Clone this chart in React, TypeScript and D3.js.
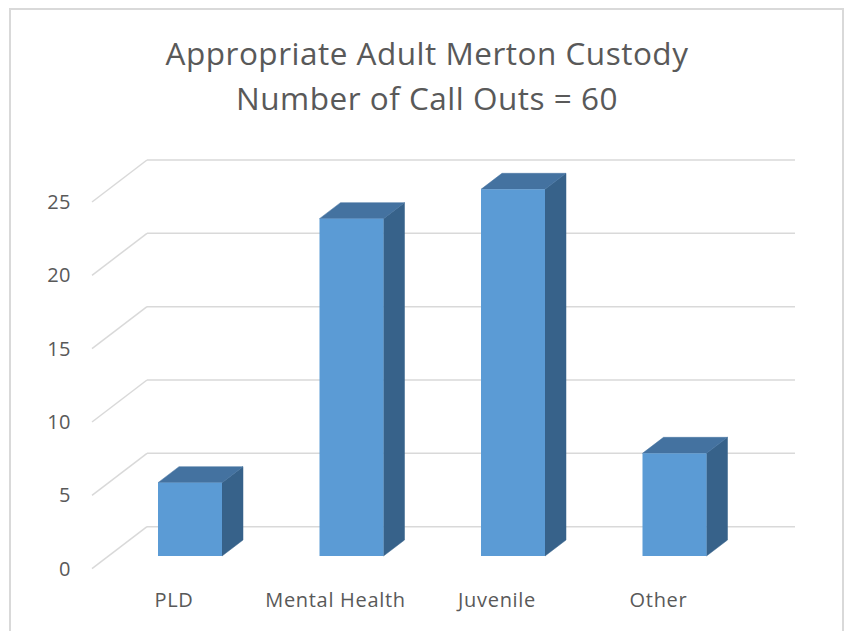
import React from 'react';
import { scaleLinear, scalePoint } from 'd3';

const categories = ['PLD', 'Mental Health', 'Juvenile', 'Other'];
const callOuts = [5, 23, 25, 7];
const yTicks = [0, 5, 10, 15, 20, 25];
const titleLines = ['Appropriate Adult Merton Custody', 'Number of Call Outs = 60'];

const W = 844;
const H = 631;
const FONT = "'Open Sans', 'Segoe UI', sans-serif";
const TEXT = '#595959';
const GRID = '#d9d9d9';

// floor depth (side wall) and bar depth
const depthX = 55;
const depthY = 42;
const barDX = 21;
const barDY = 16;
const barW = 64;
const backLeft = 147;
const backRight = 795;

export default function App() {
    // back wall scale
    const yBack = scaleLinear().domain([0, 25]).range([526.7, 160]);
    // bars sit a bit in front of the back wall
    const yBar = scaleLinear().domain([0, 25]).range([556, 189.3]);
    const x = scalePoint().domain(categories).range([190, 674.5]);

    return (
        <div style={{ position: 'absolute', left: 0, top: 0 }}>
            <svg width={W} height={H} style={{ display: 'block', background: '#fff' }}>
                <rect x={10} y={9} width={833} height={640} fill="#fff" stroke={GRID} strokeWidth={2} />

                {titleLines.map((t, i) => (
                    <text key={t} x={427} y={65 + i * 45} textAnchor="middle"
                        fontFamily={FONT} fontSize={31.5} letterSpacing={0.5} fill={TEXT}>{t}</text>
                ))}

                <g className="grid">
                    {yTicks.map(v => (
                        <g key={v}>
                            <line x1={backLeft} x2={backRight} y1={yBack(v)} y2={yBack(v)} stroke={GRID} strokeWidth={1.5} />
                            <line x1={backLeft - depthX} x2={backLeft} y1={yBack(v) + depthY} y2={yBack(v)} stroke={GRID} strokeWidth={1.5} />
                        </g>
                    ))}
                </g>

                <g className="y-axis">
                    {yTicks.map(v => (
                        <text key={v} x={71} y={yBack(v) + depthY + 7} textAnchor="end"
                            fontFamily={FONT} fontSize={20} letterSpacing={0.5} fill={TEXT}>{v}</text>
                    ))}
                </g>

                <g className="bars">
                    {categories.map((c, i) => {
                        const x0 = x(c)! - barW / 2;
                        const x1 = x0 + barW;
                        const top = yBar(callOuts[i]);
                        const bottom = yBar(0);
                        return (
                            <g key={c}>
                                <polygon
                                    points={`${x1},${bottom} ${x1 + barDX},${bottom - barDY} ${x1 + barDX},${top - barDY} ${x1},${top}`}
                                    fill="#37628a" stroke="#37628a" strokeWidth={0.5} />
                                <polygon
                                    points={`${x0},${top} ${x0 + barDX},${top - barDY} ${x1 + barDX},${top - barDY} ${x1},${top}`}
                                    fill="#4472a0" stroke="#4472a0" strokeWidth={0.5} />
                                <rect x={x0} y={top} width={barW} height={bottom - top} fill="#5b9bd5" />
                            </g>
                        );
                    })}
                </g>

                <g className="x-axis">
                    {categories.map(c => (
                        <text key={c} x={x(c)! - 16} y={607} textAnchor="middle"
                            fontFamily={FONT} fontSize={20} letterSpacing={0.7} fill={TEXT}>{c}</text>
                    ))}
                </g>
            </svg>
        </div>
    );
}
